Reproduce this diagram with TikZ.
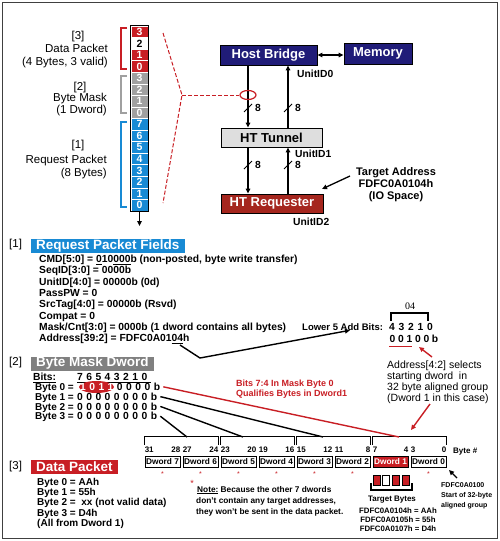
\documentclass[tikz,border=0pt]{standalone}
\usepackage{fontspec}
\setmainfont{Liberation Sans}
\newfontfamily\serifnum{Liberation Serif}
\usetikzlibrary{arrows.meta,positioning,shapes.geometric}

\definecolor{pktred}{RGB}{200,30,36}
\definecolor{reqred}{RGB}{165,38,30}
\definecolor{pktblue}{RGB}{24,138,212}
\definecolor{pktgray}{RGB}{160,160,160}
\definecolor{maskgray}{RGB}{128,128,128}
\definecolor{navy}{RGB}{32,28,120}
\definecolor{tunnelgray}{RGB}{222,222,222}

\tikzset{
  cell/.style = {draw = white, line width = 0.4pt, minimum width = 17pt, minimum height = 11.55pt, inner sep = 0pt, text = white, font = \bfseries\fontsize{10.5}{10.5}\selectfont},
  block/.style = {draw = black, line width = 0.8pt, inner sep = 0pt, text = white, font = \bfseries\fontsize{13}{13}\selectfont},
  heading/.style = {anchor = west, inner xsep = 5pt, inner ysep = 0pt, minimum height = 14pt, text = white, font = \bfseries\fontsize{13.5}{13.5}\selectfont},
  tag/.style = {inner sep = 0pt, font = \fontsize{11.5}{12.5}\selectfont},
  field/.style = {anchor = base west, inner sep = 0pt, font = \bfseries\fontsize{10.3}{11.3}\selectfont},
  small/.style = {inner sep = 0pt, font = \bfseries\fontsize{8}{9.5}\selectfont},
  dword/.style = {draw = black, line width = 0.8pt, minimum width = 35pt, minimum height = 11.5pt, inner sep = 0pt, font = \bfseries\fontsize{8.3}{8.3}\selectfont},
  link/.style = {line width = 1.4pt},
  bus/.style = {line width = 1.3pt, ->},
}

\begin{document}
\begin{tikzpicture}[x = 1pt, y = -1pt, >={Triangle[length = 5pt, width = 4.5pt]}]
\useasboundingbox (0,0) rectangle (500,541);

% packet stack
\foreach \lab/\col/\tcol [count = \i from 0] in {3/pktred/white, 2/white/black, 1/pktred/white, 0/pktred/white, 3/pktgray/white, 2/pktgray/white, 1/pktgray/white, 0/pktgray/white, 7/pktblue/white, 6/pktblue/white, 5/pktblue/white, 4/pktblue/white, 3/pktblue/white, 2/pktblue/white, 1/pktblue/white, 0/pktblue/white}
   \node[cell, fill = \col, text = \tcol] (c\i) at (139.5, {31.8 + 11.55*\i}) {\lab};
\draw[line width = 0.8pt] (c0.north west) rectangle (c15.south east);
\coordinate (stackend) at (139.5,226);
\draw[bus] (c15.south) -- (stackend);

\draw[pktred, line width = 1.3pt] (127,28) -| (121,69) -- (127,69);
\draw[pktgray, line width = 1.3pt] (127,76) -| (121,113) -- (127,113);
\draw[pktblue, line width = 1.3pt] (127,122) -| (121,207) -- (127,207);

\node[tag] (lab3) at (78,37) {[3]};
\node[tag, anchor = east, align = right] (txt3) at (108,56) {Data Packet\\(4 Bytes, 3 valid)};
\node[tag] (lab2) at (80,88) {[2]};
\node[tag, anchor = east, align = right] (txt2) at (107,104.5) {Byte Mask\\(1 Dword)};
\node[tag] (lab1) at (78,146) {[1]};
\node[tag, anchor = east, align = right] (txt1) at (107,167) {Request Packet\\(8 Bytes)};

% HT chain
\node[block, fill = navy, minimum width = 97pt, minimum height = 20pt] (hostbridge) at (268.5,55) {Host Bridge};
\node[block, fill = navy, minimum width = 68pt, minimum height = 21pt] (memory) at (378,53.5) {Memory};
\node[block, fill = tunnelgray, text = black, minimum width = 101pt, minimum height = 19pt] (tunnel) at (271.5,137.5) {HT Tunnel};
\node[block, fill = reqred, minimum width = 102pt, minimum height = 19pt] (requester) at (272,203.5) {HT Requester};

\coordinate (downx) at (248,0);
\coordinate (upx) at (288,0);
\draw[bus] (hostbridge.south -| downx) -- (tunnel.north -| downx);
\draw[bus] (tunnel.north -| upx) -- (hostbridge.south -| upx);
\draw[bus] (tunnel.south -| downx) -- (requester.north -| downx);
\draw[bus] (requester.north -| upx) -- (tunnel.south -| upx);
\draw[bus, <->] (hostbridge.east) -- (hostbridge.east -| memory.west);

\foreach \x in {248, 288}
   \foreach \y in {108, 165} {
      \draw[line width = 1pt] (\x - 4, \y + 4) -- (\x + 4, \y - 4);
      \node[field, anchor = west] at (\x + 7, \y) {8};
   }

\node[field, anchor = west] (uid0) at (297,74) {UnitID0};
\node[field, anchor = west] (uid1) at (295,154) {UnitID1};
\node[field, anchor = west] (uid2) at (293,222) {UnitID2};

\node[field, anchor = center, align = center, font = \bfseries\fontsize{11}{12}\selectfont] (target) at (396,185) {Target Address\\FDFC0A0104h\\(IO Space)};
\coordinate (tgtfrom) at (350,176);
\coordinate (tgtto) at (322,189);
\draw[bus] (tgtfrom) -- (tgtto);

% zoom onto the probed link
\node[ellipse, draw = pktred, line width = 1.2pt, minimum width = 16pt, minimum height = 9pt, inner sep = 0pt] (probe) at (248,95) {};
\coordinate (fanpt) at (182,95);
\draw[pktred, line width = 1pt, dash pattern = on 4pt off 2pt] (163,33) -- (fanpt) -- (163,203);
\draw[pktred, line width = 1pt, dash pattern = on 4pt off 2pt] (fanpt) -- (probe.west);

% [1] request packet
\node[tag, anchor = west] (sec1) at (9,245) {[1]};
\node[heading, fill = pktblue] (reqtitle) at (31,246) {Request Packet Fields};
\foreach \t [count = \k from 0] in {{CMD[5:0] = \underline{0}10\underline{000}b (non-posted, byte write transfer)}, {SeqID[3:0] = 0000b}, {UnitID[4:0] = 00000b (0d)}, {PassPW = 0}, {SrcTag[4:0] = 00000b (Rsvd)}, {Compat = 0}, {Mask/Cnt[3:0] = 0000b (1 dword contains all bytes)}, {Address[39:2] = FDFC0A01\underline{04}h}}
   \node[field] (f\k) at (39, {262.5 + 11.3*\k}) {\t};

\node[field, font = \bfseries\fontsize{9.5}{10}\selectfont] (lowbits) at (302,330) {Lower 5 Add Bits:};
\foreach \b [count = \i from 0] in {4,3,2,1,0}
   \node[field, anchor = base] at ({392 + 9.5*\i}, 330) {\b};
\foreach \b [count = \i from 0] in {0,0,1,0,0,b}
   \node[field, anchor = base] at ({392.5 + 8.5*\i}, 342) {\b};
\draw[pktred, line width = 1.2pt] (389,346.5) -- (412,346.5);
\draw[line width = 1.4pt] (391,321) -- (391,313) -- (428,313) -- (428,321);
\node[font = \serifnum\fontsize{10}{10}\selectfont] (addrhex) at (410,306) {04};

\coordinate (addrhook) at (180,345);
\coordinate (addrbend) at (200,358);
\draw[link, ->] (addrhook) -- (addrbend) -- ([xshift = 48pt]lowbits.south west);

\node[anchor = north west, align = left, inner sep = 0pt, font = \fontsize{10.5}{11}\selectfont] (selnote) at (387,361) {Address[4:2] selects\\starting dword\ \ in\\32 byte aligned group\\(Dword 1 in this case)};
\coordinate (selfrom) at (432,357);
\coordinate (seltip) at (419,347);
\draw[pktred, link, ->] (selfrom) -- (seltip);
\coordinate (dwfrom) at (430,404);
\coordinate (dwtip) at (411,430);
\draw[pktred, link, ->] (dwfrom) -- (dwtip);

% [2] byte mask
\node[tag, anchor = west] (sec2) at (9,363) {[2]};
\node[heading, fill = maskgray] (masktitle) at (31,363.5) {Byte Mask Dword};
\node[field] (bitshead) at (33,380.5) {\underline{Bits:}};
\foreach \b [count = \i from 0] in {7,6,5,4,3,2,1,0}
   \node[field, anchor = base] at ({80 + 9.2*\i}, 380.5) {\b};
\draw[line width = 0.7pt] (77,382.5) -- (151,382.5);

\node[ellipse, fill = pktred, minimum width = 35pt, minimum height = 12pt, inner sep = 0pt] (maskhit) at (96.5,387) {};
\node[field, font = \bfseries\fontsize{10}{10}\selectfont] (row0) at (35,390.5) {Byte 0 =};
\foreach \d/\dc [count = \i from 0] in {1/white, 0/white, 1/white, 1/white, 0/black, 0/black, 0/black, 0/black}
   \node[field, anchor = base, text = \dc] at ({83 + 9.2*\i}, 390.5) {\d};
\node[field, anchor = base] (b0) at (157,390.5) {b};
\foreach \r in {1,2,3} {
   \node[field, font = \bfseries\fontsize{10}{10}\selectfont] (row\r) at (35, {390.5 + 9.8*\r}) {Byte \r\ =};
   \foreach \i in {0,...,7}
      \node[field, anchor = base] at ({80 + 9.2*\i}, {390.5 + 9.8*\r}) {0};
   \node[field, anchor = base] (b\r) at (154, {390.5 + 9.8*\r}) {b};
}

\node[anchor = base west, inner sep = 0pt, text = pktred, font = \bfseries\fontsize{9}{10}\selectfont] (bitsnote) at (236,386) {Bits 7:4 In Mask Byte 0};
\node[anchor = base west, inner sep = 0pt, text = pktred, font = \bfseries\fontsize{9}{10}\selectfont] (bitsnote2) at (236,396.5) {Qualifies Bytes in Dword1};

% dword row
\foreach \k in {0,...,7}
   \node[dword] (dw\k) at ({162.5 + 38*(7 - \k)}, 461.75) {Dword \k};
\node[dword, fill = pktred, text = white] at (dw1) {Dword 1};

\foreach \j [evaluate = \j as \hi using int(2*\j + 1), evaluate = \j as \lo using int(2*\j)] in {0,...,3}
   \draw[line width = 1.2pt] ([yshift = 11pt]dw\hi.north west) -- ([yshift = 19pt]dw\hi.north west) -- ([yshift = 19pt]dw\lo.north east) -- ([yshift = 11pt]dw\lo.north east);

\foreach \k [evaluate = \k as \hibyte using int(4*\k + 3), evaluate = \k as \lobyte using int(4*\k)] in {0,...,7} {
   \node[small, anchor = base west] at ([yshift = 3pt]dw\k.north west) {\hibyte};
   \node[small, anchor = base east] at ([yshift = 3pt]dw\k.north east) {\lobyte};
}
\node[small, anchor = base west] (bytenum) at (453,453) {Byte \#};

\foreach \k in {0,2,3,4,5,6,7}
   \node[inner sep = 0pt, text = pktred, font = \fontsize{7}{7}\selectfont] at ([yshift = -6pt]dw\k.south) {*};

\coordinate (hit0) at (399,437);
\coordinate (hit1) at (323,437);
\coordinate (hit2) at (243,437);
\coordinate (hit3) at (187,437);
\draw[link, pktred] ([xshift = 3pt]b0.east) -- (hit0);
\foreach \r in {1,2,3}
   \draw[link] ([xshift = 3pt]b\r.east) -- (hit\r);

% note
\node[inner sep = 0pt, text = pktred, font = \fontsize{9}{9}\selectfont] (star) at (192,483) {*};
\node[field, font = \bfseries\fontsize{8.3}{10}\selectfont] (note1) at (197,492) {\underline{Note:} Because the other 7 dwords};
\node[field, font = \bfseries\fontsize{8.3}{10}\selectfont] (note2) at (196,503) {don't contain any target addresses,};
\node[field, font = \bfseries\fontsize{8.3}{10}\selectfont] (note3) at (196,514) {they won't be sent in the data packet.};

% target bytes
\foreach \c [count = \i from 0] in {pktred, white, pktred, pktred}
   \draw[fill = \c, line width = 0.6pt] ({373 + 9.7*\i}, 475) rectangle ++(7,10);
\draw[line width = 1.1pt] (371,483) -- (371,490) -- (412,490) -- (412,483);
\node[small] (tgtbytes) at (392,500) {Target Bytes};
\node[small, align = center, font = \bfseries\fontsize{7.8}{9}\selectfont] (tgtlist) at (398,520) {FDFC0A0104h = AAh\\FDFC0A0105h = 55h\\FDFC0A0107h = D4h};

\coordinate (grpfrom) at (457,478);
\coordinate (grptip) at (449,470);
\draw[bus] (grpfrom) -- (grptip);
\node[small, anchor = north west, align = left, font = \bfseries\fontsize{7}{10}\selectfont] (grpnote) at (441,482) {FDFC0A0100\\Start of 32-byte\\aligned group};

% [3] data packet
\node[tag, anchor = west] (sec3) at (9,467) {[3]};
\node[heading, fill = pktred] (datatitle) at (31,467) {Data Packet};
\foreach \t [count = \k from 0] in {{Byte 0 = AAh}, {Byte 1 = 55h}, {Byte 2 = \ xx (not valid data)}, {Byte 3 = D4h}, {(All from Dword 1)}}
   \node[field, font = \bfseries\fontsize{10}{10}\selectfont] (d\k) at (37, {485.5 + 10.2*\k}) {\t};

\draw[line width = 0.9pt, black!75] (2.5,2.5) rectangle (497,538.5);
\end{tikzpicture}
\end{document}
